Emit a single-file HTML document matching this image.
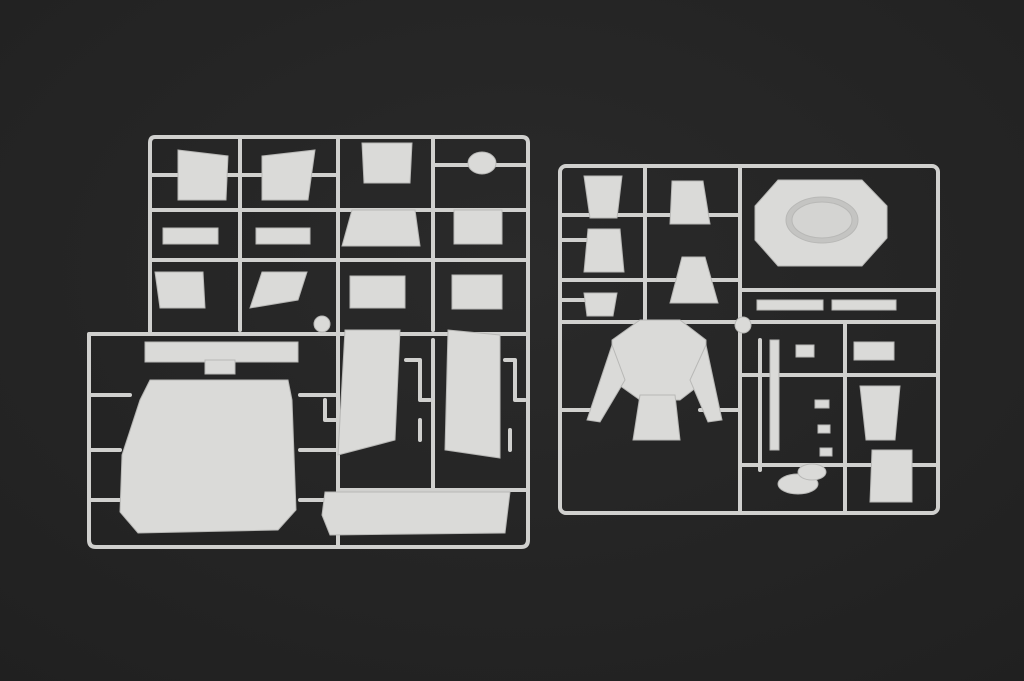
<!DOCTYPE html>
<html><head><meta charset="utf-8"><style>
html,body{margin:0;padding:0;width:1024px;height:681px;overflow:hidden;background:#242424}
svg{display:block}
</style></head><body>
<svg width="1024" height="681" viewBox="0 0 1024 681" xmlns="http://www.w3.org/2000/svg">
<defs>
<radialGradient id="bg" cx="50%" cy="40%" r="80%">
<stop offset="0" stop-color="#2a2a2a"/><stop offset="1" stop-color="#202020"/>
</radialGradient>
</defs>
<rect width="1024" height="681" fill="url(#bg)"/>
<g fill="none" stroke="#d0d0ce" stroke-width="4" stroke-linecap="round" stroke-linejoin="round">
<path d="M155 137 H522 Q528 137 528 143 V540 Q528 547 521 547 H96 Q89 547 89 540 V334 H150 V143 Q150 137 155 137 Z"/>
<path d="M150 210 H528 M150 260 H528 M150 334 H528 M338 137 V547 M433 137 V330 M150 175 H338 M433 165 H528 M89 395 H130 M89 450 H120 M89 500 H120 M300 395 H338 M300 450 H338 M300 500 H338 M338 490 H528 M240 137 V330 M433 340 V490"/>
<path d="M406 360 H420 V400 H430 M505 360 H515 V400 H525 M325 400 V420 H338 M420 420 V440 M510 430 V450"/>
</g>
<g fill="#dadad8" stroke="#b8b8b6" stroke-width="1">
<polygon points="178,150 228,156 226,200 178,200"/>
<polygon points="262,156 315,150 308,200 262,200"/>
<polygon points="362,143 412,143 410,183 364,183"/>
<ellipse cx="482" cy="163" rx="14" ry="11"/>
<rect x="163" y="228" width="55" height="16"/><rect x="256" y="228" width="54" height="16"/>
<polygon points="352,210 415,210 420,246 342,246"/>
<rect x="454" y="210" width="48" height="34"/>
<polygon points="155,272 203,272 205,308 160,308"/>
<polygon points="262,272 307,272 298,300 250,308"/>
<rect x="350" y="276" width="55" height="32"/>
<rect x="452" y="275" width="50" height="34"/>
<rect x="145" y="342" width="153" height="20"/>
<rect x="205" y="360" width="30" height="14"/>
<polygon points="150,380 288,380 292,400 296,510 278,530 138,533 120,512 122,455 140,400"/>
<polygon points="345,330 400,330 395,440 338,455"/>
<polygon points="448,330 500,335 500,458 445,450"/>
<polygon points="325,492 510,492 505,533 330,535 322,515"/>
<circle cx="322" cy="324" r="8"/>
</g>
<g fill="none" stroke="#d0d0ce" stroke-width="4" stroke-linecap="round" stroke-linejoin="round">
<rect x="560" y="166" width="378" height="347" rx="6"/>
<path d="M560 215 H740 M560 280 H740 M560 322 H938 M740 166 V513 M645 166 V322 M740 290 H938 M845 322 V513 M740 375 H938 M740 465 H938 M560 410 H600 M700 410 H740 M760 340 V470 M560 240 H590 M560 300 H585"/>
</g>
<g fill="#dadad8" stroke="#b8b8b6" stroke-width="1">
<polygon points="584,176 622,176 617,218 590,218"/>
<polygon points="672,181 703,181 710,224 670,224"/>
<polygon points="588,229 620,229 624,272 584,272"/>
<polygon points="682,257 705,257 718,303 670,303"/>
<polygon points="584,293 617,293 613,316 587,316"/>
<polygon points="778,180 862,180 887,206 887,238 862,266 778,266 755,240 755,206"/>
<ellipse cx="822" cy="220" rx="36" ry="23" fill="#c4c4c2"/>
<ellipse cx="822" cy="220" rx="30" ry="18" fill="#d4d4d2"/>
<polygon points="612,340 640,320 680,320 706,340 706,380 680,400 640,400 612,380"/>
<polygon points="612,345 587,420 600,422 625,380"/>
<polygon points="706,345 722,420 708,422 690,380"/>
<polygon points="640,395 675,395 680,440 633,440"/>
<rect x="757" y="300" width="66" height="10"/><rect x="832" y="300" width="64" height="10"/>
<rect x="796" y="345" width="18" height="12"/><rect x="854" y="342" width="40" height="18"/>
<rect x="770" y="340" width="9" height="110"/>
<polygon points="860,386 900,386 895,440 866,440"/>
<polygon points="872,450 912,450 912,502 870,502"/>
<ellipse cx="798" cy="484" rx="20" ry="10"/>
<ellipse cx="812" cy="472" rx="14" ry="8"/>
<circle cx="743" cy="325" r="8"/>
<rect x="815" y="400" width="14" height="8"/><rect x="818" y="425" width="12" height="8"/><rect x="820" y="448" width="12" height="8"/>
</g>
</svg>
</body></html>
